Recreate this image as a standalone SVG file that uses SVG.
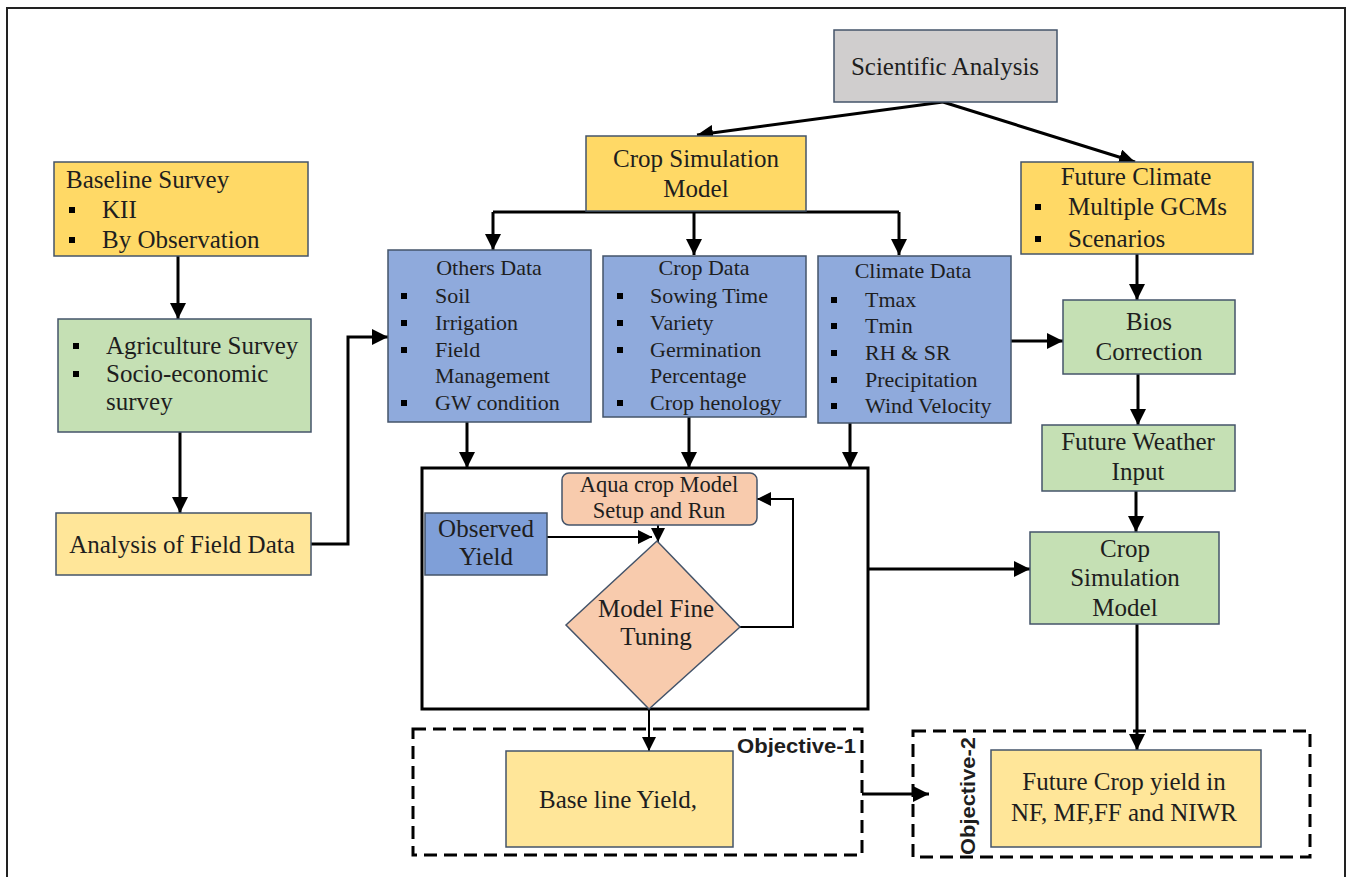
<svg xmlns="http://www.w3.org/2000/svg" width="1351" height="877" viewBox="0 0 1351 877">
<defs>
<style>
.box{stroke:#44546a;stroke-width:1.5}
.y1{fill:#ffd966}
.y2{fill:#ffe699}
.g{fill:#c5e0b4}
.b{fill:#8faadc}
.gr{fill:#d0cece}
.p{fill:#f8cbad}
.t{font-family:"Liberation Serif","Times New Roman",serif;font-size:25px;fill:#1e1e1e}
.s{font-size:22px}
.c{text-anchor:middle}
.ln{fill:none;stroke:#000;stroke-width:3}
.thin{fill:none;stroke:#000;stroke-width:2}
.dash{fill:none;stroke:#000;stroke-width:3;stroke-dasharray:13 7}
.obj{font-family:"Liberation Sans",Arial,sans-serif;font-weight:bold;font-size:20px;fill:#1e1e1e}
.bul{fill:#000}
</style>
<marker id="ah" markerUnits="userSpaceOnUse" markerWidth="16" markerHeight="16" refX="16" refY="8" orient="auto">
<path d="M0,0 L16,8 L0,16 z" fill="#000"/>
</marker>
<marker id="ahs" markerUnits="userSpaceOnUse" markerWidth="14" markerHeight="14" refX="14" refY="7" orient="auto">
<path d="M0,0 L14,7 L0,14 z" fill="#000"/>
</marker>
<rect id="sq" width="6" height="6"/>
</defs>
<rect x="0" y="0" width="1351" height="877" fill="#fff"/>
<rect x="7" y="8" width="1338" height="880" fill="none" stroke="#222" stroke-width="2"/>

<g id="connectors">
<line class="ln" x1="943" y1="102" x2="697" y2="135" marker-end="url(#ah)"/>
<line class="ln" x1="943" y1="102" x2="1135" y2="162" marker-end="url(#ah)"/>
<path class="ln" d="M493,212 H899"/>
<path class="ln" d="M493,212 V250" marker-end="url(#ah)"/>
<path class="ln" d="M694,212 V255" marker-end="url(#ah)"/>
<path class="ln" d="M899,212 V255" marker-end="url(#ah)"/>
<path class="ln" d="M178,256 V319" marker-end="url(#ah)"/>
<path class="ln" d="M180,432 V513" marker-end="url(#ah)"/>
<path class="ln" d="M311,544 H348 V337 H388" marker-end="url(#ah)"/>
<path class="ln" d="M467,422 V468" marker-end="url(#ah)"/>
<path class="ln" d="M689,417 V468" marker-end="url(#ah)"/>
<path class="ln" d="M850,423 V468" marker-end="url(#ah)"/>
<path class="ln" d="M1011,341 H1063" marker-end="url(#ah)"/>
<path class="ln" d="M1137,254 V300" marker-end="url(#ah)"/>
<path class="ln" d="M1138,374 V425" marker-end="url(#ah)"/>
<path class="ln" d="M1136,491 V532" marker-end="url(#ah)"/>
<path class="ln" d="M868,569 H1030" marker-end="url(#ah)"/>
<path class="ln" d="M1137,624 V750" marker-end="url(#ah)"/>
<path class="thin" d="M547,537 H652" marker-end="url(#ahs)"/>
<path class="thin" d="M658,525 V542" marker-end="url(#ahs)"/>
<path class="thin" d="M740,627 H793 V499 H757" marker-end="url(#ahs)"/>
<path class="thin" d="M649,709 V751" marker-end="url(#ahs)"/>
<path class="ln" d="M862,794 H929" marker-end="url(#ah)"/>
</g>

<g id="scientific-analysis">
<rect class="box gr" x="834" y="30" width="223" height="72"/>
<text class="t c" x="945" y="75">Scientific Analysis</text>
</g>

<g id="crop-simulation-top">
<rect class="box y1" x="586" y="136" width="220" height="75"/>
<text class="t c" x="696" y="167">Crop Simulation</text>
<text class="t c" x="696" y="197">Model</text>
</g>

<g id="baseline-survey">
<rect class="box y1" x="54" y="162" width="254" height="94"/>
<text class="t" x="66" y="188">Baseline Survey</text>
<use href="#sq" class="bul" x="69" y="207"/>
<text class="t" x="102" y="218">KII</text>
<use href="#sq" class="bul" x="69" y="237"/>
<text class="t" x="102" y="248">By Observation</text>
</g>

<g id="agriculture-survey">
<rect class="box g" x="58" y="319" width="253" height="113"/>
<use href="#sq" class="bul" x="73" y="343"/>
<text class="t" x="106" y="354">Agriculture Survey</text>
<use href="#sq" class="bul" x="73" y="371"/>
<text class="t" x="106" y="382">Socio-economic</text>
<text class="t" x="106" y="410">survey</text>
</g>

<g id="analysis-field-data">
<rect class="box y2" x="56" y="513" width="255" height="62"/>
<text class="t c" x="182" y="553">Analysis of Field Data</text>
</g>

<g id="future-climate">
<rect class="box y1" x="1021" y="162" width="232" height="92"/>
<text class="t c" x="1136" y="185">Future Climate</text>
<use href="#sq" class="bul" x="1035" y="204"/>
<text class="t" x="1068" y="215">Multiple GCMs</text>
<use href="#sq" class="bul" x="1035" y="236"/>
<text class="t" x="1068" y="247">Scenarios</text>
</g>

<g id="others-data">
<rect class="box b" x="388" y="250" width="203" height="172"/>
<text class="t s c" x="489" y="275">Others Data</text>
<use href="#sq" class="bul" x="401" y="293"/>
<text class="t s" x="435" y="303">Soil</text>
<use href="#sq" class="bul" x="401" y="320"/>
<text class="t s" x="435" y="330">Irrigation</text>
<use href="#sq" class="bul" x="401" y="347"/>
<text class="t s" x="435" y="357">Field</text>
<text class="t s" x="435" y="383">Management</text>
<use href="#sq" class="bul" x="401" y="400"/>
<text class="t s" x="435" y="410">GW condition</text>
</g>

<g id="crop-data">
<rect class="box b" x="603" y="256" width="203" height="161"/>
<text class="t s c" x="704" y="275">Crop Data</text>
<use href="#sq" class="bul" x="617" y="293"/>
<text class="t s" x="650" y="303">Sowing Time</text>
<use href="#sq" class="bul" x="617" y="320"/>
<text class="t s" x="650" y="330">Variety</text>
<use href="#sq" class="bul" x="617" y="347"/>
<text class="t s" x="650" y="357">Germination</text>
<text class="t s" x="650" y="383">Percentage</text>
<use href="#sq" class="bul" x="617" y="400"/>
<text class="t s" x="650" y="410">Crop henology</text>
</g>

<g id="climate-data">
<rect class="box b" x="818" y="256" width="193" height="167"/>
<text class="t s c" x="913" y="278">Climate Data</text>
<use href="#sq" class="bul" x="831" y="297"/>
<text class="t s" x="865" y="307">Tmax</text>
<use href="#sq" class="bul" x="831" y="323"/>
<text class="t s" x="865" y="333">Tmin</text>
<use href="#sq" class="bul" x="831" y="350"/>
<text class="t s" x="865" y="360">RH &amp; SR</text>
<use href="#sq" class="bul" x="831" y="377"/>
<text class="t s" x="865" y="387">Precipitation</text>
<use href="#sq" class="bul" x="831" y="403"/>
<text class="t s" x="865" y="413">Wind Velocity</text>
</g>

<g id="bios-correction">
<rect class="box g" x="1063" y="300" width="172" height="74"/>
<text class="t c" x="1149" y="330">Bios</text>
<text class="t c" x="1149" y="360">Correction</text>
</g>

<g id="future-weather-input">
<rect class="box g" x="1042" y="425" width="193" height="66"/>
<text class="t c" x="1138" y="450">Future Weather</text>
<text class="t c" x="1138" y="480">Input</text>
</g>

<g id="crop-simulation-future">
<rect class="box g" x="1030" y="532" width="189" height="92"/>
<text class="t c" x="1125" y="557">Crop</text>
<text class="t c" x="1125" y="586">Simulation</text>
<text class="t c" x="1125" y="616">Model</text>
</g>

<g id="calibration-frame">
<rect x="422" y="468" width="446" height="241" fill="none" stroke="#000" stroke-width="3"/>
</g>

<g id="aquacrop-setup">
<rect class="box p" x="562" y="473" width="195" height="52" rx="7"/>
<text class="t c" x="659" y="492" style="font-size:22.5px">Aqua crop Model</text>
<text class="t c" x="659" y="518" style="font-size:22.5px">Setup and Run</text>
</g>

<g id="observed-yield">
<rect class="box" fill="#7f9fd8" x="425" y="513" width="122" height="62"/>
<text class="t c" x="486" y="537">Observed</text>
<text class="t c" x="486" y="565">Yield</text>
</g>

<g id="model-fine-tuning">
<polygon class="box p" points="657,541 740,627 649,709 566,625"/>
<text class="t c" x="656" y="617">Model Fine</text>
<text class="t c" x="656" y="645">Tuning</text>
</g>

<g id="objective-1">
<rect class="dash" x="413" y="729" width="449" height="126"/>
<text class="obj" x="737" y="753" textLength="119" lengthAdjust="spacingAndGlyphs">Objective-1</text>
</g>

<g id="baseline-yield">
<rect class="box y2" x="506" y="751" width="227" height="96"/>
<text class="t c" x="618" y="808">Base line Yield,</text>
</g>

<g id="objective-2">
<rect class="dash" x="913" y="731" width="397" height="126"/>
<text class="obj" transform="translate(975,855) rotate(-90)" x="0" y="0" textLength="118" lengthAdjust="spacingAndGlyphs">Objective-2</text>
</g>

<g id="future-crop-yield">
<rect class="box y2" x="991" y="750" width="270" height="97"/>
<text class="t c" x="1124" y="790">Future Crop yield in</text>
<text class="t c" x="1124" y="821">NF, MF,FF and NIWR</text>
</g>
</svg>
